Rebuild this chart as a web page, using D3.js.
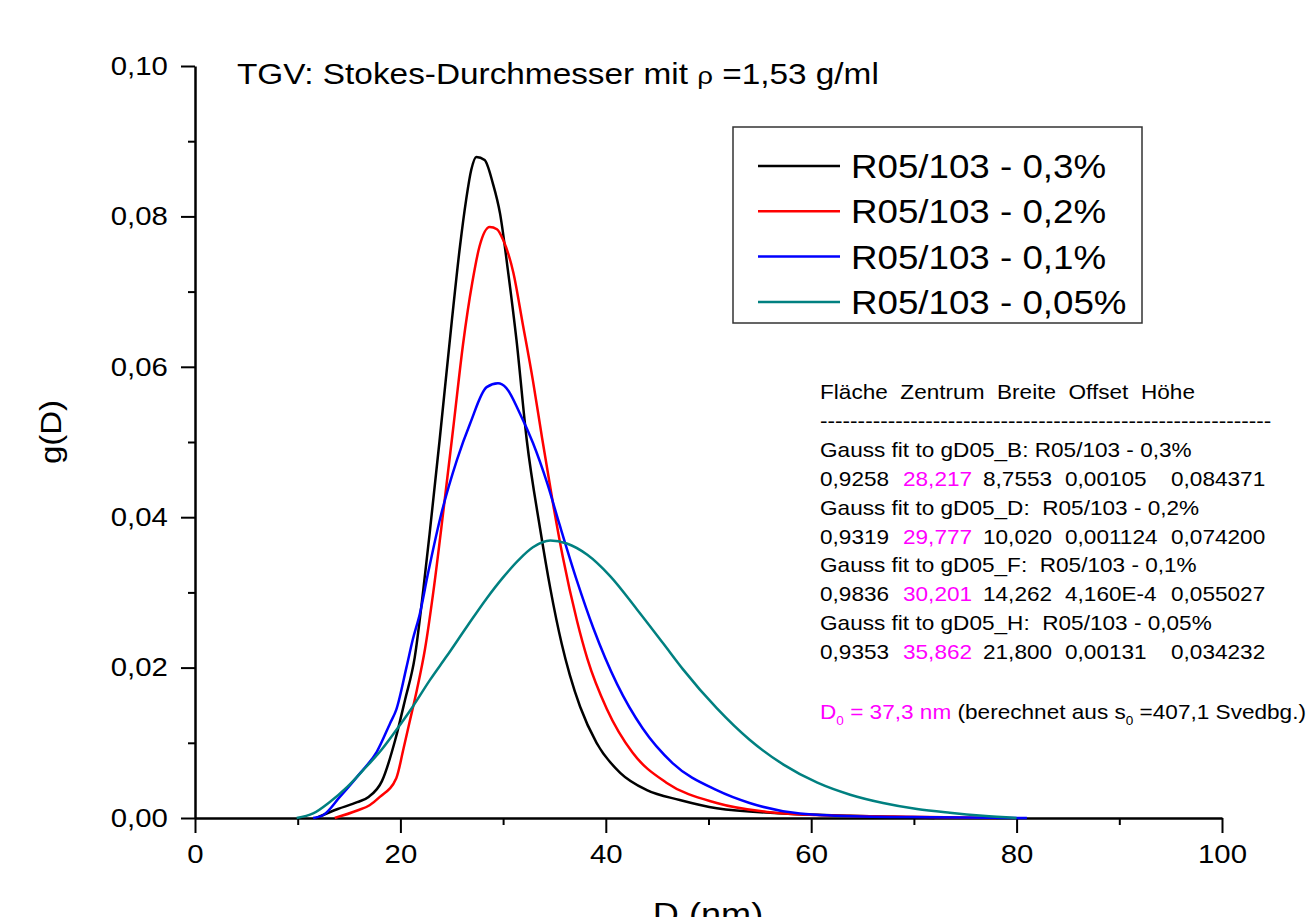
<!DOCTYPE html>
<meta charset="utf-8">
<style>
    body { margin: 0; background: #fff; }
    text { font-family: Arial, "Liberation Sans", sans-serif; white-space: pre; }
</style>
<body>
    <svg width="1308" height="917"></svg>
</body>
<script src="https://cdnjs.cloudflare.com/ajax/libs/d3/7.8.5/d3.min.js"></script>
<script>

    // DATA
    var seriesNames = ["R05/103 - 0,3%", "R05/103 - 0,2%", "R05/103 - 0,1%", "R05/103 - 0,05%"];

    var d03 = [11.8, 13.9, 15.8, 16.9, 18.2, 19.5, 20.45, 21.4, 22.2, 22.9, 23.8, 25.0, 25.8, 26.4, 26.9, 27.4, 28.2, 29.0, 29.7, 30.5, 31.3, 32.3, 33.6, 34.6, 35.7, 36.5, 37.5, 39.1, 41.4, 44.0, 47.2, 50.8, 57.3, 63.8, 72];
    var g03 = [0.0000, 0.0012, 0.0021, 0.0028, 0.0049, 0.0104, 0.0157, 0.0214, 0.0300, 0.0385, 0.0500, 0.0660, 0.0760, 0.0822, 0.0862, 0.0879, 0.0875, 0.0844, 0.0804, 0.0725, 0.0636, 0.0503, 0.0385, 0.0305, 0.0232, 0.0190, 0.0148, 0.0100, 0.0060, 0.0037, 0.0024, 0.0013, 0.0006, 0.0003, 0.0000];

    var d02 = [13.6, 15.8, 17.0, 18.0, 19.6, 20.3, 20.9, 21.6, 22.4, 23.2, 24.2, 25.2, 26.1, 27.0, 27.7, 28.7, 29.4, 30.0, 31.0, 31.9, 32.9, 33.8, 34.9, 35.8, 37.2, 38.2, 40.1, 42.6, 45.9, 50.8, 55.7, 60.6, 68, 78];
    var g02 = [0.0000, 0.0010, 0.0017, 0.0028, 0.0053, 0.0092, 0.0128, 0.0170, 0.0225, 0.0300, 0.0410, 0.0525, 0.0630, 0.0712, 0.0760, 0.0786, 0.0783, 0.0769, 0.0725, 0.0658, 0.0582, 0.0505, 0.0415, 0.0348, 0.0262, 0.0212, 0.0145, 0.0087, 0.0047, 0.0020, 0.0008, 0.0004, 0.0002, 0.0000];

    var d01 = [11.5, 12.5, 14.1, 16.1, 17.7, 19.0, 19.6, 20.6, 21.2, 21.9, 22.7, 23.9, 25.5, 26.8, 28.4, 29.5, 30.3, 31.6, 32.9, 34.3, 35.5, 37.2, 38.8, 41.1, 43.6, 46.5, 50.8, 54.0, 58.9, 65, 72, 81];
    var g01 = [0.0000, 0.0004, 0.0028, 0.0060, 0.0088, 0.0126, 0.0144, 0.0201, 0.0237, 0.0272, 0.0326, 0.0400, 0.0476, 0.0525, 0.0573, 0.0578, 0.0572, 0.0539, 0.0499, 0.0445, 0.0390, 0.0315, 0.0252, 0.0178, 0.0119, 0.0073, 0.0037, 0.0020, 0.0006, 0.0002, 0.0001, 0.0000];

    var d005 = [9.9, 11.5, 13.1, 14.8, 16.4, 18.0, 19.6, 21.2, 22.9, 24.5, 26.5, 28.4, 30.0, 31.5, 32.9, 34.6, 36.2, 38.2, 40.4, 43.0, 45.6, 47.5, 50.8, 54.0, 57.3, 60.6, 63.8, 67.0, 70.3, 73.5, 76.7, 80.0];
    var g005 = [0.0000, 0.0006, 0.0021, 0.0041, 0.0064, 0.0088, 0.0117, 0.0148, 0.0184, 0.0215, 0.0255, 0.0292, 0.0320, 0.0343, 0.0360, 0.0369, 0.0365, 0.0350, 0.0322, 0.0278, 0.0232, 0.0198, 0.0146, 0.0104, 0.0071, 0.0047, 0.0031, 0.0020, 0.0012, 0.0007, 0.0003, 0.0000];

    var xTicks = [0, 20, 40, 60, 80, 100];
    var yTicks = [0, 0.02, 0.04, 0.06, 0.08, 0.10];

    // Gauss fit table
    var fitHeader = "Fläche  Zentrum  Breite  Offset  Höhe";
    var fitNames = ["Gauss fit to gD05_B: R05/103 - 0,3%", "Gauss fit to gD05_D:  R05/103 - 0,2%",
                    "Gauss fit to gD05_F:  R05/103 - 0,1%", "Gauss fit to gD05_H:  R05/103 - 0,05%"];
    var fitArea   = ["0,9258", "0,9319", "0,9836", "0,9353"];
    var fitCenter = ["28,217", "29,777", "30,201", "35,862"];
    var fitWidth  = ["8,7553", "10,020", "14,262", "21,800"];
    var fitOffset = ["0,00105", "0,001124", "4,160E-4", "0,00131"];
    var fitHeight = ["0,084371", "0,074200", "0,055027", "0,034232"];

    // STYLE
    var colors = ["#000000", "#ff0000", "#0000ff", "#008080"];
    var magenta = "#ff00ff";
    var sx = 1.13;   // the original text is a bit wider than Arial

    var svg = d3.select("svg"),
        width = +svg.attr("width"),
        height = +svg.attr("height");

    var g = svg.append("g");

    var x = d3.scaleLinear().domain([0, 100]).range([195, 1222]);
    var y = d3.scaleLinear().domain([0, 0.10]).range([818, 66]);

    var locale = d3.formatLocale({decimal: ",", thousands: ".", grouping: [3], currency: ["", " €"]});
    var fmtY = locale.format(".2f");

    //minor ticks first
    g.append("g")
        .attr("transform", "translate(0,818)")
        .call(d3.axisBottom(x).tickValues(d3.range(10, 100, 20)).tickSize(7).tickFormat(""))
        .call(a => a.select(".domain").remove());

    g.append("g")
        .attr("transform", "translate(195,0)")
        .call(d3.axisLeft(y).tickValues(d3.range(0.01, 0.1, 0.02)).tickSize(7).tickFormat(""))
        .call(a => a.select(".domain").remove());

    //major axes
    var xAxis = g.append("g")
        .attr("transform", "translate(0,818)")
        .call(d3.axisBottom(x).tickValues(xTicks).tickSize(15).tickSizeOuter(0).tickPadding(12));

    var yAxis = g.append("g")
        .attr("transform", "translate(195,0)")
        .call(d3.axisLeft(y).tickValues(yTicks).tickSize(14).tickSizeOuter(0).tickPadding(10).tickFormat(fmtY));

    g.selectAll(".tick line").attr("stroke", "#000").attr("stroke-width", 2);
    g.selectAll(".domain").attr("stroke", "#000").attr("stroke-width", 2.5);
    g.selectAll(".tick text")
        .attr("font-size", 26)
        .attr("font-family", "Arial, 'Liberation Sans', sans-serif")
        .attr("fill", "#000")
        .attr("transform", `scale(${sx},1)`);

    // helper for the stretched texts
    function label(px, py, str, size, fill, anchor, k) {
        return g.append("text")
            .attr("transform", `translate(${px},${py}) scale(${k || sx},1)`)
            .attr("font-size", size)
            .attr("fill", fill || "#000")
            .attr("text-anchor", anchor || "start")
            .text(str);
    }

    //axis titles
    label(708, 925, "D (nm)", 32, "#000", "middle");
    g.append("text")
        .attr("transform", "translate(61,432) rotate(-90) scale(1.1,1)")
        .attr("font-size", 30)
        .attr("text-anchor", "middle")
        .text("g(D)");

    //title
    var title = label(237, 84, "TGV: Stokes-Durchmesser mit ", 29, "#000", "start", 1.15);
    title.append("tspan").attr("font-size", 24).text("ρ");
    title.append("tspan").text(" =1,53 g/ml");

    //curves
    var line = d3.line()
        .x(d => x(d[0]))
        .y(d => y(d[1]))
        .curve(d3.curveMonotoneX);

    var series = [d3.zip(d03, g03), d3.zip(d02, g02), d3.zip(d01, g01), d3.zip(d005, g005)];

    g.append("g")
        .selectAll("path")
        .data(series)
        .enter()
        .append("path")
        .attr("d", line)
        .attr("fill", "none")
        .attr("stroke", (d, i) => colors[i])
        .attr("stroke-width", 2.5)
        .attr("stroke-linejoin", "round");

    //legend
    g.append("rect")
        .attr("x", 733).attr("y", 127)
        .attr("width", 409).attr("height", 196)
        .attr("fill", "none")
        .attr("stroke", "#333")
        .attr("stroke-width", 1.5);

    seriesNames.forEach(function(name, i) {
        var ly = 166 + i * 45.3;
        g.append("line")
            .attr("x1", 758).attr("x2", 840)
            .attr("y1", ly).attr("y2", ly)
            .attr("stroke", colors[i])
            .attr("stroke-width", 2.5);
        label(851, ly + 12, name, 34, "#000", "start", 1.08);
    });

    //fit table
    var tx = 820;
    label(tx, 399, fitHeader, 20);
    label(tx, 428, "-".repeat(60), 20);

    var cols = [820, 903, 983, 1065, 1171];
    fitNames.forEach(function(name, i) {
        var ty = 457 + i * 57.5;
        label(tx, ty, name, 20);
        var row = ty + 29;
        label(cols[0], row, fitArea[i], 20);
        label(cols[1], row, fitCenter[i], 20, magenta);
        label(cols[2], row, fitWidth[i], 20);
        label(cols[3], row, fitOffset[i], 20);
        label(cols[4], row, fitHeight[i], 20);
    });

    var d0 = label(tx, 719, "D", 20, magenta);
    d0.append("tspan").attr("font-size", 12).attr("dy", 6).text("0");
    d0.append("tspan").attr("dy", -6).text(" = 37,3 nm");
    d0.append("tspan").attr("fill", "#000").text(" (berechnet aus s");
    d0.append("tspan").attr("fill", "#000").attr("font-size", 12).attr("dy", 6).text("0");
    d0.append("tspan").attr("fill", "#000").attr("dy", -6).text(" =407,1 Svedbg.)");

</script>
